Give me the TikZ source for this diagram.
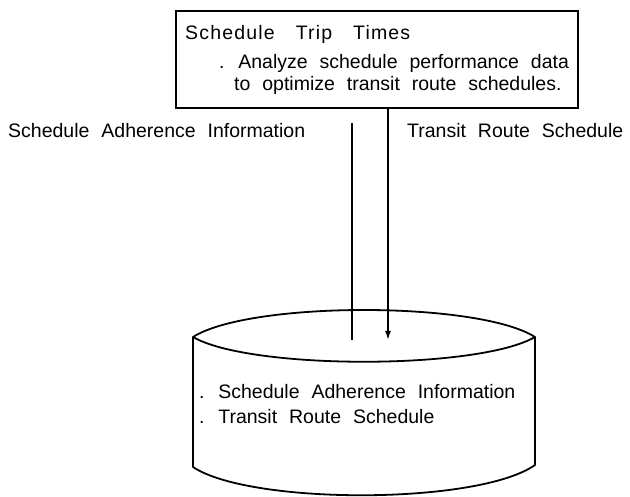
\documentclass[tikz,border=0pt]{standalone}
\usepackage{fontspec}
\setmainfont{Liberation Sans}[WordSpace=2.2]
\newfontfamily\titlefont{Liberation Sans}[WordSpace=3.2,LetterSpace=6]
\usetikzlibrary{positioning,arrows.meta,calc}

\begin{document}
\begin{tikzpicture}[
  x=1pt, y=-1pt,
  font=\fontsize{19.5}{22}\selectfont,
  >={Latex[length=9pt,width=6pt]},
  procbox/.style={draw=black, line width=2.6pt, minimum width=402pt,
                  minimum height=97pt, inner sep=0pt},
  flowlabel/.style={inner sep=0pt, anchor=west},
  flowline/.style={line width=1.6pt},
  storeline/.style={line width=1.8pt, line join=round},
]
\useasboundingbox (0,0) rectangle (630,497);

% Process box: title and description
\node[procbox] (trip) at (377,59.5) {};
\node[flowlabel] (triptitle) at (185,34) {\titlefont Schedule Trip Times};
\node[flowlabel, align=left] (tripdesc) at (219,74)
  {. Analyze schedule performance data\\
   \hspace*{15pt}to optimize transit route schedules.};

% --- Flow labels ---
\node[flowlabel] (adhlabel)   at (8,131)   {Schedule Adherence Information};
\node[flowlabel] (routelabel) at (407,131) {Transit Route Schedule};

% --- Data store (open cylinder) ---
\draw[storeline] (193,337) .. controls (250,301) and (478,301) .. (535,337)
  .. controls (478,370) and (250,370) .. (193,337) -- (193,467)
  .. controls (250,505) and (478,505) .. (535,465) -- (535,337);
\node[flowlabel, align=left, font=\fontsize{19.5}{25}\selectfont] (store) at (199,404)
  {. Schedule Adherence Information\\. Transit Route Schedule};

% --- Flows between process and store ---
\coordinate (adhtop)   at (352,123);
\coordinate (adhend)   at (352,340);
\coordinate (routeend) at (388,340);
\draw[flowline] (adhtop) -- (adhend);
\draw[flowline, ->] (trip.south -| routeend) -- (routeend);

\end{tikzpicture}
\end{document}
